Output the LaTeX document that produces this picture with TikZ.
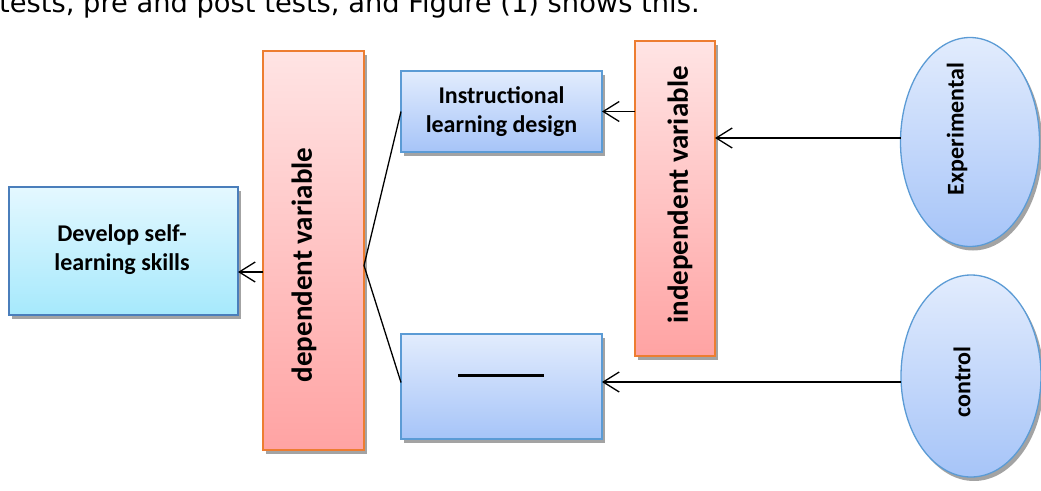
\documentclass[tikz,border=0pt]{standalone}
\usepackage{fontspec}
\setmainfont{Carlito}
\newfontfamily\dejavu{DejaVu Sans}
\usetikzlibrary{shapes.geometric,shadows,arrows.meta}
\definecolor{bluetop}{HTML}{E2ECFD}
\definecolor{bluebot}{HTML}{A6C4F8}
\definecolor{cyantop}{HTML}{E4F8FF}
\definecolor{cyanbot}{HTML}{A6E9FC}
\definecolor{pinktop}{HTML}{FFE4E4}
\definecolor{pinkbot}{HTML}{FFA3A3}
\definecolor{orangeline}{HTML}{ED7D31}
\definecolor{blueline}{HTML}{5B9BD5}
\definecolor{darkblueline}{HTML}{4A7EBB}
\tikzset{
  shad/.style={drop shadow={shadow xshift=3pt,shadow yshift=-4pt,fill=black!45,opacity=0.8}},
  bluebox/.style={rectangle,draw=blueline,line width=1.3pt,top color=bluetop,bottom color=bluebot,inner sep=0pt,outer sep=0pt,shad},
  cyanbox/.style={rectangle,draw=darkblueline,line width=1.3pt,top color=cyantop,bottom color=cyanbot,inner sep=0pt,outer sep=0pt,shad},
  pinkbox/.style={rectangle,draw=orangeline,line width=1.3pt,top color=pinktop,bottom color=pinkbot,inner sep=0pt,outer sep=0pt,shad},
  blueoval/.style={ellipse,draw=blueline,line width=1.3pt,top color=bluetop,bottom color=bluebot,inner sep=0pt,outer sep=0pt,shad},
  lbl/.style={font=\bfseries\fontsize{24}{29}\selectfont,align=center,inner sep=0pt},
  biglbl/.style={font=\bfseries\fontsize{29}{34}\selectfont,inner sep=0pt,rotate=90},
  arr/.style={-{Straight Barb[length=16pt,width=20pt,line width=1.3pt]},line width=1.3pt,black},
  conn/.style={line width=1.3pt,black}
}
\begin{document}
\begin{tikzpicture}[x=1pt,y=-1pt]
\useasboundingbox (0,0) rectangle (1041,490);
\clip (0,0) rectangle (1041,490);
\node[anchor=base west,inner sep=0pt,font=\dejavu\fontsize{27.3}{32}\selectfont] (top) at (-1,12) {tests, pre and post tests, and Figure (1) shows this.};
% boxes
\node[cyanbox,minimum width=229pt,minimum height=128pt] (dev) at (123.5,251) {};
\node[pinkbox,minimum width=101pt,minimum height=399pt] (dep) at (313.5,250.5) {};
\node[bluebox,minimum width=201pt,minimum height=81pt] (instr) at (501.5,111.5) {};
\node[bluebox,minimum width=201pt,minimum height=105pt] (blank) at (501.5,386.5) {};
\node[pinkbox,minimum width=80pt,minimum height=315pt] (indep) at (675,198.5) {};
\node[blueoval,minimum width=139pt,minimum height=209pt] (exp) at (970,142) {};
\node[blueoval,minimum width=140pt,minimum height=202pt] (ctl) at (971,376) {};
% texts
\node[lbl] (devt) at (122,250) {Develop self-\\learning skills};
\node[lbl] (instrt) at (501.5,112) {Instructional\\learning design};
\node[inner sep=0pt] (blankt) at (501,375) {\rule{86pt}{3pt}};
\node[biglbl] (dept) at (304,265) {dependent variable};
\node[biglbl] (indept) at (680,195) {independent variable};
\node[lbl,rotate=90] (expt) at (957,129) {Experimental};
\node[lbl,rotate=90] (ctlt) at (962,382) {control};
% connectors
\coordinate (apex) at ([yshift=-15pt]dep.east);
\draw[conn] (instr.west) -- (apex) -- ([yshift=4pt]blank.west);
\coordinate (devarr) at ([yshift=-21pt]dev.east);
\draw[arr] (devarr -| dep.west) -- (devarr);
\draw[arr] (instr.east -| indep.west) -- (instr.east);
\coordinate (exparr) at ([yshift=4pt]exp.west);
\draw[arr] (exparr) -- (exparr -| indep.east);
\coordinate (ctlarr) at ([yshift=-6pt]ctl.west);
\draw[arr] (ctlarr) -- (ctlarr -| blank.east);
\end{tikzpicture}
\end{document}
